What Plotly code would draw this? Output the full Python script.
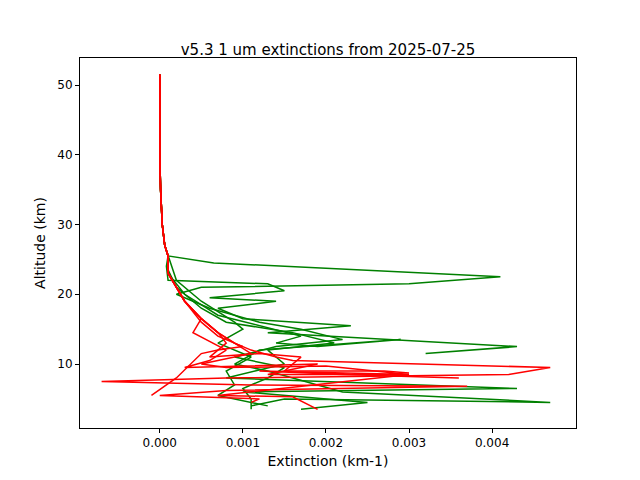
import plotly.graph_objects as go

top_alt = [51.5, 45, 40, 35, 30, 27, 25.5]
top_ext = [0.0, 0.0, 0.0, 0.00001, 0.00003, 0.00006, 0.0001]

green_alt = [
    [24.5, 22.5, 21.5, 21, 20, 18, 16, 15, 13.5, 12.5, 11, 9.5, 8, 6.5, 5, 3.5],
    [24, 22, 21.5, 20.5, 19.5, 19, 18, 16.5, 15.5, 14.5, 12.5, 11.5],
    [23.5, 21, 18, 16, 14.5, 13, 12, 10, 8, 6.5, 6, 4.5, 3.5],
    [23, 20, 17, 15.5, 14, 13, 12.5, 13.5, 12, 10, 9, 6, 4.5, 5, 4],
    [22, 19, 16, 15, 13, 11, 9, 7, 5.5, 4],
]
green_ext = [
    [0.00065, 0.0041, 0.003, 0.0005, 0.0002, 0.0006, 0.0012, 0.0017, 0.0022, 0.0014, 0.0009, 0.0015, 0.0013, 0.0010, 0.0011, 0.0011],
    [0.00008, 0.0001, 0.0013, 0.0015, 0.0006, 0.0014, 0.0007, 0.0010, 0.0023, 0.0013, 0.0043, 0.0032],
    [0.0001, 0.0002, 0.0005, 0.0008, 0.0016, 0.0021, 0.0013, 0.0015, 0.0008, 0.0043, 0.0010, 0.0025, 0.0017],
    [0.0001, 0.0003, 0.0007, 0.0012, 0.0017, 0.0014, 0.0019, 0.0029, 0.0012, 0.0009, 0.0013, 0.0022, 0.0047, 0.0015, 0.0011],
    [0.0002, 0.0005, 0.0009, 0.0010, 0.0007, 0.0011, 0.0008, 0.0009, 0.0007, 0.0013],
]

red_alt = [
    [23, 19, 16.5, 14.5, 13, 12, 11, 10.5, 9.5, 8.5, 8, 7.5, 7, 6.8, 6.2, 5.5, 5, 4.5],
    [23, 19, 16.5, 14.5, 13, 11.5, 10, 9.5, 9.7, 8.5, 9, 8.5, 8],
    [23, 19, 16.5, 14.5, 12, 10.5, 9.5, 10, 8.5, 8.5, 5.5, 5.3, 3.5],
    [23, 19, 16.5, 14.5, 13, 11, 11.5, 11, 9, 9, 8.7],
    [23, 19, 16, 14, 12.5, 12, 11.5, 8, 5.5],
]
red_ext = [
    [0.0001, 0.0003, 0.0005, 0.0007, 0.0009, 0.0011, 0.0014, 0.0016, 0.0047, 0.0042, 0.0008, -0.0007, 0.0011, 0.0037, 0.0008, 0.0, 0.0012, 0.0011],
    [0.0001, 0.0003, 0.0005, 0.0007, 0.0009, 0.0011, 0.0005, 0.0008, 0.0020, 0.0030, 0.0012, 0.0022, 0.0036],
    [0.0001, 0.0003, 0.0005, 0.0004, 0.0008, 0.0006, 0.0003, 0.0019, 0.0013, 0.0030, 0.0007, 0.0016, 0.0019],
    [0.0001, 0.0003, 0.0005, 0.0007, 0.0008, 0.0006, 0.0012, 0.0017, 0.0015, 0.0027, 0.0030],
    [0.0001, 0.0003, 0.0005, 0.0007, 0.0010, 0.0007, 0.0005, 0.0002, -0.0001],
]

fig = go.Figure()
for xs, ys in zip(green_ext, green_alt):
    fig.add_trace(go.Scatter(x=top_ext + xs, y=top_alt + ys, mode="lines",
                             line=dict(color="#008000", width=1.5), showlegend=False))
for xs, ys in zip(red_ext, red_alt):
    fig.add_trace(go.Scatter(x=top_ext + xs, y=top_alt + ys, mode="lines",
                             line=dict(color="#ff0000", width=1.5), showlegend=False))

axis = dict(showline=True, linecolor="black", mirror=True, ticks="outside",
            showgrid=False, zeroline=False, tickcolor="black", ticklen=4)
fig.update_layout(
    width=640, height=480,
    paper_bgcolor="white", plot_bgcolor="white",
    font=dict(family="DejaVu Sans", size=12, color="black"),
    title=dict(text="v5.3 1 um extinctions from 2025-07-25", x=0.5, y=0.925,
               xanchor="center", font=dict(size=15)),
    margin=dict(l=72, r=72, t=50, b=60),
    xaxis=dict(axis, title=dict(text="Extinction (km-1)", standoff=6),
               range=[-0.00096, 0.00501], tickvals=[0, 0.001, 0.002, 0.003, 0.004],
               tickformat=".3f"),
    yaxis=dict(axis, title=dict(text="Altitude (km)", standoff=8),
               range=[0.83, 53.87], tickvals=[10, 20, 30, 40, 50]),
)
fig.write_html("out.html")
